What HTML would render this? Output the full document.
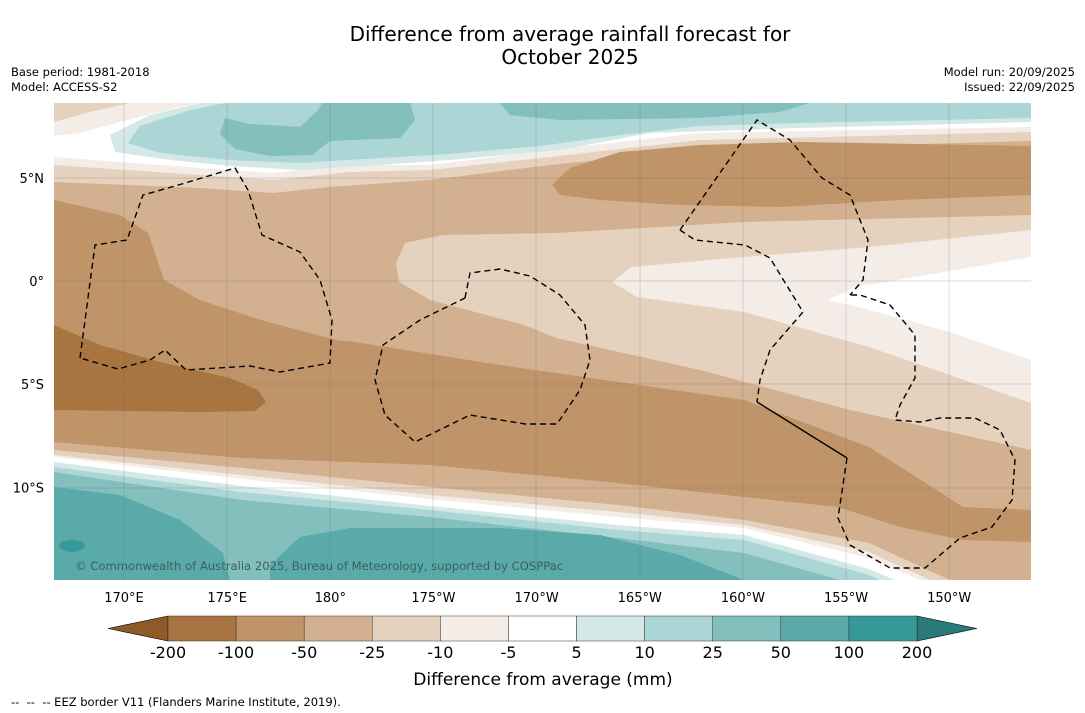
<!DOCTYPE html>
<html><head><meta charset="utf-8"><style>
html,body{margin:0;padding:0;background:#fff;}
svg{display:block;font-family:"DejaVu Sans","Liberation Sans",sans-serif;}
</style></head><body>
<svg id="chart" width="1085" height="713" viewBox="0 0 1085 713">
<text x="570" y="41" font-size="20" text-anchor="middle">Difference from average rainfall forecast for</text>
<text x="570" y="64" font-size="20" text-anchor="middle">October 2025</text>
<text x="11" y="76" font-size="11.5">Base period: 1981-2018</text>
<text x="11" y="91" font-size="11.5">Model: ACCESS-S2</text>
<text x="1075" y="76" font-size="11.5" text-anchor="end">Model run: 20/09/2025</text>
<text x="1075" y="91" font-size="11.5" text-anchor="end">Issued: 22/09/2025</text>

<defs><clipPath id="mapclip"><rect x="54" y="103" width="977" height="477"/></clipPath></defs>
<g id="map" clip-path="url(#mapclip)">
<rect x="54" y="103" width="977" height="477" fill="#d3b190"/>
<polygon fill="#e4d1be" points="54,103 54,182 200,188 273,193 330,187 430,180 550,165 700,150 1031,141 1031,103"/>
<polygon fill="#f4ece6" points="54,103 54,165 200,175 273,180 350,172 430,170 550,157 700,140 1031,132 1031,103"/>
<polygon fill="#ffffff" points="54,135 54,157 200,168 273,173 350,165 430,165 550,150 700,133 1031,127 1031,103 200,103 110,120"/>
<polygon fill="#e4d1be" points="54,103 130,103 90,112 54,122"/>
<polygon fill="#f4ece6" points="54,122 90,112 130,103 195,103 120,122 80,133 54,136"/>
<polygon fill="#d4e9e7" points="1031,122 800,128 650,133 560,150 450,160 380,165 300,170 230,166 170,160 115,152 110,135 150,115 200,103 1031,103"/>
<polygon fill="#abd6d5" points="1031,118 800,123 700,126 620,135 540,146 450,154 380,158 300,163 230,160 160,153 128,143 140,126 190,110 225,103 1031,103"/>
<polygon fill="#83bfbd" points="225,118 250,124 300,127 318,110 322,103 410,103 415,120 400,138 330,141 312,155 270,156 235,149 220,134"/>
<polygon fill="#83bfbd" points="500,103 810,103 780,112 700,118 560,120 510,115"/>
<polygon fill="#c09469" points="552,185 570,168 620,152 700,145 800,142 1031,146 1031,195 900,200 780,207 680,205 600,200 560,195"/>
<polygon fill="#e4d1be" points="1031,215 744,222 556,233 443,235 405,243 396,263 399,282 430,300 524,325 556,338 700,370 850,410 1031,450"/>
<polygon fill="#f4ece6" points="1031,230 869,247 744,257 631,267 612,282 637,297 744,312 869,347 1031,403"/>
<polygon fill="#ffffff" points="1031,257 856,287 828,300 862,308 950,332 1031,360"/>
<polygon fill="#c09469" points="54,200 120,215 148,233 158,262 164,280 200,300 261,320 336,340 355,342 500,365 744,400 869,447 932,487 963,507 1031,510 1031,542 963,540 900,527 838,507 744,497 618,483 430,465 242,458 54,442"/>
<polygon fill="#a87540" points="54,325 100,345 160,362 230,378 258,390 266,402 255,411 200,412 54,410"/>
<polygon fill="#e4d1be" points="54,450 242,468 430,487 618,505 744,520 869,543 950,580 54,580"/>
<polygon fill="#f4ece6" points="54,455 242,475 430,495 618,512 744,525 869,552 930,580 54,580"/>
<polygon fill="#ffffff" points="54,457 242,479 430,499 618,517 744,528 869,558 920,580 54,580"/>
<polygon fill="#d4e9e7" points="54,462 242,486 430,506 618,525 744,535 869,569 895,580 54,580"/>
<polygon fill="#abd6d5" points="54,467 242,492 430,510 618,530 744,540 869,575 880,580 54,580"/>
<polygon fill="#83bfbd" points="54,472 242,500 430,517 618,538 744,553 840,580 54,580"/>
<polygon fill="#5aaaa9" points="54,487 120,495 180,520 223,553 230,580 54,580"/>
<polygon fill="#5aaaa9" points="270,565 300,537 350,528 500,528 600,535 680,555 744,580 270,580"/>
<ellipse cx="72" cy="546" rx="13" ry="6" fill="#35999a"/>
<g stroke="#666" stroke-width="0.5" opacity="0.45">
<line x1="124" y1="103" x2="124" y2="580"/><line x1="227" y1="103" x2="227" y2="580"/><line x1="330" y1="103" x2="330" y2="580"/>
<line x1="433" y1="103" x2="433" y2="580"/><line x1="536" y1="103" x2="536" y2="580"/><line x1="640" y1="103" x2="640" y2="580"/>
<line x1="743" y1="103" x2="743" y2="580"/><line x1="846" y1="103" x2="846" y2="580"/><line x1="949" y1="103" x2="949" y2="580"/>
<line x1="54" y1="178" x2="1031" y2="178"/><line x1="54" y1="281" x2="1031" y2="281"/><line x1="54" y1="384" x2="1031" y2="384"/><line x1="54" y1="488" x2="1031" y2="488"/>
</g>
<g fill="none" stroke="#000" stroke-width="1.4" stroke-dasharray="6,4">
<polyline points="80,358 95,245 127,240 143,195 175,186 235,168 248,190 262,235 300,252 320,280 332,320 330,363 280,372 250,366 186,370 165,350 150,360 118,369 80,358"/>
<polyline points="465,298 470,273 500,269 530,276 560,295 585,325 590,360 580,390 557,424 525,424 470,415 415,442 385,415 375,380 383,345 420,320 465,298"/>
<polyline points="680,230 757,120 790,140 822,178 850,195 868,240 863,280 850,295"/>
<polyline points="680,230 695,240 745,245 770,258 803,312 770,350 760,380 757,402"/>
<polyline points="847,458 838,518 850,545 890,568 925,568 960,538 992,527 1012,500 1015,460 1000,430 975,418 940,418 920,422 895,420 900,405 915,378 915,335 890,305 860,295 850,295"/>
</g>
<polyline points="757,402 847,458" fill="none" stroke="#000" stroke-width="1.4"/>
<text x="75" y="570" font-size="11.6" fill="#3d5f5f">© Commonwealth of Australia 2025, Bureau of Meteorology, supported by COSPPac</text>
</g>
<g id="axes" font-size="13"></g>
<g id="colorbar"></g>
<text x="543" y="685" font-size="17" text-anchor="middle">Difference from average (mm)</text>
<text x="11" y="706" font-size="11.5" xml:space="preserve" style="white-space:pre">--  --  -- EEZ border V11 (Flanders Marine Institute, 2019).</text>
</svg>
<script>
const levelLabels = ["-200","-100","-50","-25","-10","-5","5","10","25","50","100","200"];
const binColors = ["#a87540","#c09469","#d3b190","#e4d1be","#f4ece6","#ffffff","#d4e9e7","#abd6d5","#83bfbd","#5aaaa9","#35999a"];
const extendColors = ["#8e5a2a","#2a7a7a"];
const lonTicks = ["170°E","175°E","180°","175°W","170°W","165°W","160°W","155°W","150°W"];
const lonValues = [170,175,180,185,190,195,200,205,210];
const latTicks = ["5°N","0°","5°S","10°S"];
const latValues = [5,0,-5,-10];

const NS = "http://www.w3.org/2000/svg";
const lonX = v => 124 + (v - 170) * 20.63;
const latY = v => 281 - v * 20.63;
const cbX = i => 168 + i * (749 / binColors.length);
function mk(tag, attrs, parent){ const e=document.createElementNS(NS,tag); for(const k in attrs) e.setAttribute(k,attrs[k]); parent.appendChild(e); return e; }

const axes = document.getElementById("axes");
lonTicks.forEach((t,i)=>{
  const el = mk("text",{x:lonX(lonValues[i]),y:602,"text-anchor":"middle"},axes);
  el.textContent = t;
  
  
});
latTicks.forEach((t,i)=>{
  const el = mk("text",{x:44,y:latY(latValues[i])+5,"text-anchor":"end"},axes);
  el.textContent = t;
  
  
});

const cb = document.getElementById("colorbar");
const y0 = 616, h = 25;
const left = mk("polygon",{points:`${cbX(0)},${y0} 108,${y0+h/2} ${cbX(0)},${y0+h}`,fill:extendColors[0],stroke:"#000","stroke-width":0.6},cb);


const n = binColors.length;
const right = mk("polygon",{points:`${cbX(n)},${y0} 977,${y0+h/2} ${cbX(n)},${y0+h}`,fill:extendColors[1],stroke:"#000","stroke-width":0.6},cb);


binColors.forEach((c,i)=>{
  const r = mk("rect",{x:cbX(i),y:y0,width:cbX(i+1)-cbX(i),height:h,fill:c,stroke:"#333","stroke-width":0.5},cb);
  
  
});
levelLabels.forEach((t,i)=>{
  const el = mk("text",{x:cbX(i),y:658,"font-size":16,"text-anchor":"middle"},cb);
  el.textContent = t;
  
  
});
</script>
</body></html>
